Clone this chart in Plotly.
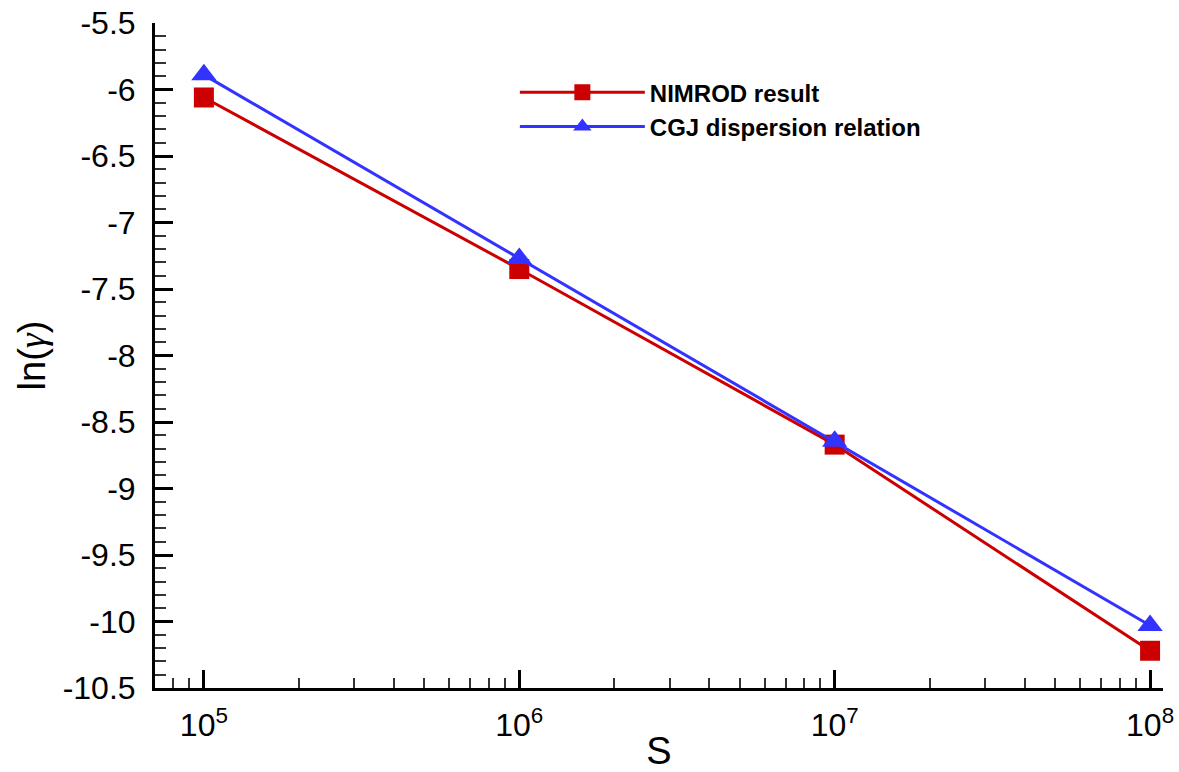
import plotly.graph_objects as go

# ---- data ----
S_values = [1e5, 1e6, 1e7, 1e8]
nimrod_ln_gamma = [-6.06, -7.35, -8.67, -10.22]
cgj_ln_gamma = [-5.89, -7.27, -8.645, -10.03]
series_names = ["NIMROD result", "CGJ dispersion relation"]

x_tick_vals = [1e5, 1e6, 1e7, 1e8]
x_tick_text = ["10<sup>5</sup>", "10<sup>6</sup>", "10<sup>7</sup>", "10<sup>8</sup>"]
x_minor_vals = [8e4, 9e4] + [m * 10 ** e for e in (5, 6, 7) for m in range(2, 10)]
y_tick_vals = [-5.5, -6, -6.5, -7, -7.5, -8, -8.5, -9, -9.5, -10, -10.5]
y_tick_text = ["-5.5", "-6", "-6.5", "-7", "-7.5", "-8", "-8.5", "-9", "-9.5", "-10", "-10.5"]

RED = "#CC0000"
BLUE = "#3333FF"
FONT = "Arial, Liberation Sans, sans-serif"

fig = go.Figure()
fig.add_trace(go.Scatter(
    x=S_values, y=nimrod_ln_gamma, name=series_names[0], mode="lines+markers",
    line=dict(color=RED, width=3),
    marker=dict(symbol="square", size=20, color=RED, line=dict(width=0)),
))
fig.add_trace(go.Scatter(
    x=S_values, y=cgj_ln_gamma, name=series_names[1], mode="lines+markers",
    line=dict(color=BLUE, width=3),
    marker=dict(symbol="triangle-up", size=22, color=BLUE, line=dict(width=0)),
))

fig.update_layout(
    width=1179, height=772,
    margin=dict(l=155, r=16, t=23, b=84, autoexpand=False),
    paper_bgcolor="white", plot_bgcolor="white",
    font=dict(family=FONT, color="black"),
    showlegend=True,
    legend=dict(
        x=0.357, y=0.929, xanchor="left", yanchor="top",
        bgcolor="rgba(0,0,0,0)", borderwidth=0,
        font=dict(family=FONT, size=24, color="black", weight="bold"),
        itemwidth=125, tracegroupgap=0,
    ),
    xaxis=dict(
        type="log", range=[4.845, 8.041], automargin=False,
        tickvals=x_tick_vals, ticktext=x_tick_text,
        ticks="inside", ticklen=18, tickwidth=3, tickcolor="black",
        showline=True, linewidth=3, linecolor="black", mirror=False,
        showgrid=False, zeroline=False,
        tickfont=dict(size=32, family=FONT),
        ticklabelstandoff=7, ticklabeloverflow="allow",
        minor=dict(tickvals=x_minor_vals, ticks="inside", ticklen=10, tickwidth=1.5, tickcolor="#333", showgrid=False),
        title=dict(text="S", font=dict(size=38, family=FONT), standoff=0),
    ),
    yaxis=dict(
        range=[-10.5, -5.5], automargin=False,
        tickvals=y_tick_vals, ticktext=y_tick_text,
        ticks="inside", ticklen=18, tickwidth=3, tickcolor="black",
        showline=True, linewidth=3, linecolor="black", mirror=False,
        showgrid=False, zeroline=False,
        tickfont=dict(size=32, family=FONT),
        ticklabelstandoff=10, ticklabeloverflow="allow",
        minor=dict(dtick=0.1, ticks="inside", ticklen=11, tickwidth=1.5, tickcolor="#333", showgrid=False),
        title=dict(text="ln(<span style='font-family:Liberation Serif'><i>γ</i></span>)",
                   font=dict(size=38, family=FONT), standoff=6),
    ),
)

fig.write_html("out.html", config={"displayModeBar": False},
               post_script="document.body.style.margin='0';")
